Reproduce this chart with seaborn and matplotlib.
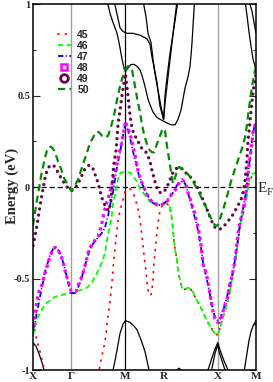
import matplotlib
matplotlib.use("Agg")
import matplotlib.pyplot as plt
from matplotlib.lines import Line2D
import seaborn as sns

# high-symmetry points along the k-path
sym_labels = ["X", "Γ", "M", "R", "X", "M"]
sym_pos = [0.0, 0.5, 1.207, 1.707, 2.414, 2.914]

# bands 45-50, (k, E) pairs
band45 = [(0, -0.74), (0.026, -0.79), (0.052, -0.84), (0.078, -0.88), (0.105, -0.92), (0.131, -0.97),
          (0.157, -1.01), (0.196, -1.10), (0.836, -1.10), (0.876, -0.97), (0.902, -0.92), (0.928, -0.87),
          (0.954, -0.81), (0.967, -0.75), (0.980, -0.70), (1.006, -0.63), (1.019, -0.57), (1.032, -0.52),
          (1.045, -0.45), (1.058, -0.39), (1.072, -0.33), (1.085, -0.28), (1.098, -0.23), (1.111, -0.18),
          (1.137, -0.13), (1.163, -0.09), (1.189, -0.05), (1.207, -0.02), (1.241, -0.01), (1.268, -0.01),
          (1.307, -0.03), (1.333, -0.06), (1.359, -0.10), (1.385, -0.14), (1.398, -0.18), (1.411, -0.22),
          (1.424, -0.27), (1.437, -0.32), (1.450, -0.37), (1.464, -0.42), (1.477, -0.46), (1.490, -0.52),
          (1.503, -0.56), (1.516, -0.59), (1.542, -0.59), (1.555, -0.56), (1.568, -0.51), (1.581, -0.41),
          (1.594, -0.36), (1.607, -0.30), (1.620, -0.25), (1.633, -0.20), (1.646, -0.16), (1.660, -0.13),
          (1.686, -0.10), (1.707, -0.10), (1.738, -0.09), (1.777, -0.10), (1.803, -0.14), (1.816, -0.18),
          (1.829, -0.23), (1.842, -0.29), (1.856, -0.34), (1.882, -0.40), (1.895, -0.46), (1.921, -0.51),
          (1.947, -0.55), (1.986, -0.56), (2.025, -0.55), (2.065, -0.56), (2.117, -0.60), (2.182, -0.65),
          (2.248, -0.71), (2.313, -0.76), (2.378, -0.80), (2.414, -0.81), (2.444, -0.77), (2.483, -0.71),
          (2.535, -0.64), (2.574, -0.57), (2.613, -0.47), (2.640, -0.40), (2.666, -0.34), (2.705, -0.22),
          (2.744, -0.14), (2.770, -0.07), (2.796, -0.02), (2.836, 0.04), (2.875, 0.07), (2.914, 0.08)]

band46 = [(0, -0.81), (0.026, -0.76), (0.052, -0.72), (0.091, -0.69), (0.157, -0.64), (0.222, -0.62),
          (0.287, -0.60), (0.379, -0.59), (0.444, -0.58), (0.5, -0.58), (0.575, -0.57), (0.640, -0.56),
          (0.706, -0.55), (0.771, -0.52), (0.836, -0.47), (0.902, -0.41), (0.941, -0.36), (0.967, -0.29),
          (1.006, -0.21), (1.032, -0.15), (1.045, -0.09), (1.072, -0.04), (1.098, 0.02), (1.124, 0.06),
          (1.150, 0.08), (1.207, 0.08), (1.268, 0.08), (1.307, 0.06), (1.359, 0.03), (1.398, -0.01),
          (1.437, -0.03), (1.490, -0.06), (1.529, -0.08), (1.568, -0.09), (1.620, -0.10), (1.673, -0.10),
          (1.725, -0.09), (1.764, -0.09), (1.790, -0.11), (1.803, -0.14), (1.816, -0.18), (1.829, -0.23),
          (1.842, -0.29), (1.856, -0.34), (1.882, -0.40), (1.895, -0.46), (1.921, -0.51), (1.947, -0.55),
          (1.986, -0.56), (2.025, -0.55), (2.078, -0.56), (2.117, -0.60), (2.156, -0.63), (2.208, -0.67),
          (2.248, -0.71), (2.287, -0.74), (2.339, -0.78), (2.378, -0.80), (2.414, -0.81), (2.444, -0.77),
          (2.483, -0.71), (2.535, -0.64), (2.574, -0.57), (2.613, -0.47), (2.640, -0.40), (2.666, -0.34),
          (2.705, -0.21), (2.744, -0.15), (2.770, -0.10), (2.796, -0.05), (2.809, 0.0), (2.836, 0.05),
          (2.862, 0.07), (2.914, 0.08)]

band47 = [(0, -0.78), (0.026, -0.74), (0.052, -0.68), (0.078, -0.63), (0.105, -0.57), (0.131, -0.52),
          (0.157, -0.46), (0.196, -0.41), (0.222, -0.37), (0.261, -0.34), (0.301, -0.33), (0.340, -0.35),
          (0.379, -0.39), (0.418, -0.45), (0.457, -0.52), (0.483, -0.56), (0.5, -0.58), (0.549, -0.58),
          (0.588, -0.55), (0.627, -0.51), (0.666, -0.45), (0.706, -0.39), (0.745, -0.34), (0.784, -0.31),
          (0.823, -0.29), (0.862, -0.27), (0.902, -0.25), (0.941, -0.22), (0.980, -0.16), (1.006, -0.10),
          (1.045, -0.03), (1.072, 0.04), (1.098, 0.11), (1.137, 0.19), (1.163, 0.25), (1.189, 0.31),
          (1.207, 0.35), (1.241, 0.31), (1.268, 0.27), (1.294, 0.22), (1.320, 0.17), (1.346, 0.13),
          (1.372, 0.08), (1.398, 0.05), (1.424, 0.02), (1.464, -0.02), (1.503, -0.05), (1.542, -0.08),
          (1.581, -0.09), (1.620, -0.09), (1.660, -0.10), (1.707, -0.09), (1.738, -0.08), (1.777, -0.06),
          (1.816, -0.04), (1.856, -0.01), (1.895, 0.02), (1.934, 0.03), (1.960, 0.03), (1.986, 0.02),
          (2.012, -0.01), (2.038, -0.05), (2.065, -0.09), (2.091, -0.13), (2.117, -0.17), (2.143, -0.21),
          (2.169, -0.27), (2.195, -0.33), (2.221, -0.41), (2.248, -0.46), (2.274, -0.51), (2.300, -0.56),
          (2.326, -0.62), (2.352, -0.67), (2.378, -0.71), (2.414, -0.73), (2.444, -0.72), (2.470, -0.69),
          (2.509, -0.64), (2.535, -0.60), (2.561, -0.55), (2.600, -0.49), (2.626, -0.43), (2.653, -0.36),
          (2.679, -0.28), (2.705, -0.20), (2.731, -0.15), (2.757, -0.09), (2.783, -0.03), (2.809, 0.07),
          (2.836, 0.16), (2.862, 0.26), (2.888, 0.32), (2.914, 0.36)]

band48 = [(0, -0.76), (0.026, -0.69), (0.052, -0.62), (0.078, -0.57), (0.105, -0.55), (0.131, -0.51),
          (0.157, -0.47), (0.196, -0.42), (0.222, -0.38), (0.248, -0.35), (0.287, -0.33), (0.327, -0.34),
          (0.353, -0.37), (0.379, -0.39), (0.405, -0.43), (0.431, -0.48), (0.457, -0.51), (0.483, -0.55),
          (0.5, -0.57), (0.536, -0.57), (0.562, -0.57), (0.588, -0.54), (0.614, -0.51), (0.640, -0.49),
          (0.666, -0.45), (0.693, -0.41), (0.719, -0.36), (0.745, -0.33), (0.784, -0.31), (0.823, -0.28),
          (0.849, -0.27), (0.889, -0.22), (0.928, -0.14), (0.967, -0.08), (1.006, -0.03), (1.045, 0.04),
          (1.085, 0.11), (1.124, 0.18), (1.163, 0.25), (1.189, 0.31), (1.207, 0.36), (1.241, 0.32),
          (1.268, 0.29), (1.294, 0.25), (1.320, 0.20), (1.346, 0.15), (1.372, 0.09), (1.398, 0.05),
          (1.437, 0.01), (1.477, -0.03), (1.516, -0.06), (1.555, -0.08), (1.594, -0.09), (1.633, -0.10),
          (1.673, -0.10), (1.712, -0.09), (1.751, -0.08), (1.790, -0.05), (1.829, -0.03), (1.869, -0.01),
          (1.908, 0.02), (1.947, 0.04), (1.973, 0.03), (1.999, 0.01), (2.025, -0.03), (2.052, -0.06),
          (2.078, -0.10), (2.104, -0.13), (2.130, -0.17), (2.156, -0.22), (2.182, -0.27), (2.208, -0.36),
          (2.221, -0.42), (2.248, -0.45), (2.274, -0.49), (2.300, -0.55), (2.326, -0.62), (2.352, -0.68),
          (2.378, -0.72), (2.414, -0.74), (2.431, -0.74), (2.457, -0.72), (2.483, -0.68), (2.509, -0.64),
          (2.535, -0.62), (2.561, -0.55), (2.587, -0.51), (2.613, -0.46), (2.640, -0.40), (2.666, -0.30),
          (2.692, -0.22), (2.718, -0.17), (2.744, -0.13), (2.770, -0.07), (2.796, 0.02), (2.822, 0.12),
          (2.849, 0.20), (2.875, 0.30), (2.914, 0.36)]

band49 = [(0, -0.32), (0.026, -0.27), (0.052, -0.21), (0.078, -0.14), (0.105, -0.07), (0.131, -0.01),
          (0.157, 0.05), (0.183, 0.09), (0.209, 0.11), (0.235, 0.12), (0.261, 0.12), (0.287, 0.11),
          (0.314, 0.09), (0.340, 0.07), (0.366, 0.05), (0.392, 0.03), (0.418, 0.02), (0.444, 0.00),
          (0.470, -0.01), (0.5, -0.02), (0.549, -0.01), (0.575, 0.01), (0.601, 0.03), (0.627, 0.05),
          (0.653, 0.08), (0.680, 0.10), (0.706, 0.11), (0.732, 0.12), (0.758, 0.11), (0.784, 0.10),
          (0.810, 0.07), (0.836, 0.04), (0.862, 0.00), (0.889, -0.04), (0.915, -0.08), (0.941, -0.10),
          (0.967, -0.12), (0.993, -0.13), (1.019, -0.07), (1.032, -0.01), (1.045, 0.07), (1.058, 0.13),
          (1.085, 0.20), (1.111, 0.34), (1.137, 0.42), (1.163, 0.50), (1.189, 0.57), (1.207, 0.62),
          (1.241, 0.50), (1.268, 0.39), (1.294, 0.32), (1.320, 0.29), (1.346, 0.27), (1.372, 0.25),
          (1.398, 0.23), (1.424, 0.21), (1.450, 0.20), (1.477, 0.19), (1.503, 0.17), (1.529, 0.14),
          (1.555, 0.09), (1.581, 0.05), (1.607, 0.01), (1.633, -0.02), (1.660, -0.03), (1.707, -0.03),
          (1.751, 0.00), (1.790, 0.04), (1.829, 0.08), (1.869, 0.10), (1.908, 0.11), (1.947, 0.10),
          (1.986, 0.08), (2.025, 0.07), (2.065, 0.05), (2.104, 0.03), (2.143, 0.00), (2.182, -0.03),
          (2.221, -0.07), (2.261, -0.11), (2.300, -0.15), (2.339, -0.19), (2.378, -0.22), (2.414, -0.23),
          (2.444, -0.23), (2.483, -0.22), (2.522, -0.20), (2.561, -0.18), (2.600, -0.16), (2.640, -0.13),
          (2.679, -0.10), (2.718, -0.07), (2.744, -0.03), (2.770, 0.03), (2.796, 0.15), (2.809, 0.25),
          (2.836, 0.36), (2.862, 0.47), (2.888, 0.56), (2.914, 0.62)]

band50 = [(0, -0.21), (0.026, -0.14), (0.052, -0.07), (0.078, -0.01), (0.105, 0.06), (0.131, 0.11),
          (0.157, 0.16), (0.183, 0.20), (0.209, 0.22), (0.235, 0.22), (0.261, 0.21), (0.287, 0.19),
          (0.327, 0.14), (0.366, 0.10), (0.405, 0.05), (0.444, 0.02), (0.483, -0.01), (0.5, -0.02),
          (0.549, 0.01), (0.588, 0.04), (0.627, 0.09), (0.666, 0.14), (0.706, 0.19), (0.745, 0.24),
          (0.784, 0.27), (0.823, 0.30), (0.862, 0.30), (0.902, 0.28), (0.941, 0.27), (0.980, 0.28),
          (1.006, 0.31), (1.032, 0.35), (1.058, 0.39), (1.085, 0.45), (1.111, 0.50), (1.137, 0.55),
          (1.163, 0.59), (1.189, 0.62), (1.207, 0.64), (1.241, 0.66), (1.268, 0.66), (1.294, 0.64),
          (1.320, 0.58), (1.346, 0.52), (1.372, 0.46), (1.398, 0.41), (1.424, 0.34), (1.450, 0.29),
          (1.477, 0.25), (1.503, 0.22), (1.529, 0.20), (1.555, 0.19), (1.581, 0.19), (1.607, 0.22),
          (1.633, 0.25), (1.660, 0.28), (1.686, 0.31), (1.707, 0.32), (1.725, 0.31), (1.738, 0.26),
          (1.764, 0.19), (1.790, 0.12), (1.816, 0.05), (1.829, 0.02), (1.856, 0.05), (1.882, 0.09),
          (1.908, 0.11), (1.947, 0.10), (1.986, 0.08), (2.025, 0.07), (2.065, 0.05), (2.104, 0.02),
          (2.143, -0.01), (2.182, -0.04), (2.221, -0.08), (2.261, -0.11), (2.300, -0.15), (2.339, -0.18),
          (2.378, -0.21), (2.414, -0.21), (2.431, -0.19), (2.470, -0.14), (2.509, -0.09), (2.548, -0.03),
          (2.587, 0.03), (2.626, 0.08), (2.666, 0.13), (2.705, 0.18), (2.731, 0.21), (2.770, 0.27),
          (2.796, 0.34), (2.822, 0.43), (2.849, 0.51), (2.875, 0.58), (2.901, 0.64), (2.914, 0.65)]

# remaining (unlabelled) bands, drawn in black
black_bands = [
    [(0.967, 1.02), (1.006, 0.95), (1.045, 0.90), (1.072, 0.87), (1.098, 0.84), (1.124, 0.79), (1.137, 0.76),
     (1.163, 0.70), (1.189, 0.65), (1.207, 0.63), (1.241, 0.65), (1.281, 0.67), (1.320, 0.67), (1.359, 0.66),
     (1.398, 0.64), (1.424, 0.61), (1.464, 0.55), (1.503, 0.48), (1.529, 0.45), (1.568, 0.41), (1.620, 0.38),
     (1.660, 0.37), (1.707, 0.36), (1.751, 0.35), (1.803, 0.34), (1.856, 0.34), (1.895, 0.37), (1.934, 0.42),
     (1.960, 0.48), (1.986, 0.54), (2.025, 0.60), (2.052, 0.66), (2.065, 0.72), (2.078, 0.79), (2.091, 0.88),
     (2.104, 0.97), (2.117, 1.03)],
    [(1.058, 1.02), (1.085, 0.97), (1.111, 0.92), (1.137, 0.87), (1.176, 0.85), (1.228, 0.84), (1.307, 0.84),
     (1.398, 0.83), (1.490, 0.81), (1.529, 0.78), (1.555, 0.71), (1.594, 0.63), (1.620, 0.57), (1.660, 0.44),
     (1.707, 0.37), (1.725, 0.50), (1.751, 0.60), (1.790, 0.73), (1.816, 0.80), (1.856, 0.91), (1.895, 1.02)],
    [(1.437, 1.02), (1.477, 0.93), (1.503, 0.84), (1.542, 0.79), (1.568, 0.70), (1.594, 0.62), (1.633, 0.53),
     (1.673, 0.44), (1.707, 0.37), (1.725, 0.46), (1.764, 0.60), (1.803, 0.74), (1.842, 0.88), (1.882, 1.02)],
    [(2.770, 1.02), (2.796, 0.94), (2.822, 0.85), (2.849, 0.77), (2.875, 0.70), (2.901, 0.66), (2.914, 0.64)],
    [(2.822, 1.02), (2.862, 0.96), (2.888, 0.90), (2.914, 0.84)],
    [(0, -0.85), (0.039, -0.87), (0.078, -0.91), (0.118, -0.96), (0.144, -1.0), (0.170, -1.06)],
    [(1.019, -1.04), (1.045, -1.0), (1.072, -0.95), (1.098, -0.89), (1.137, -0.80), (1.176, -0.75), (1.207, -0.73),
     (1.268, -0.74), (1.320, -0.76), (1.359, -0.78), (1.398, -0.82), (1.424, -0.85), (1.464, -0.90),
     (1.490, -0.95), (1.516, -1.0), (1.542, -1.06)],
    [(1.856, -1.03), (1.882, -1.0), (1.908, -0.99), (1.934, -1.0), (1.960, -1.03)],
    [(2.261, -1.04), (2.287, -1.0), (2.326, -0.95), (2.365, -0.90), (2.414, -0.85), (2.444, -0.89),
     (2.496, -0.95), (2.548, -1.0), (2.574, -1.04)],
    [(2.313, -1.04), (2.339, -0.99), (2.378, -0.91), (2.414, -0.86), (2.431, -0.90), (2.470, -0.95),
     (2.509, -1.0), (2.535, -1.04)],
    [(2.744, -1.04), (2.770, -0.98), (2.796, -0.91), (2.822, -0.84), (2.849, -0.79), (2.875, -0.76), (2.914, -0.73)],
]

band_names = ["45", "46", "47", "48", "49", "50"]
bands = [band45, band46, band47, band48, band49, band50]
styles = [
    dict(color="#ff0000", lw=1.3, linestyle=(0, (0.5, 3.6)), dash_capstyle="round"),
    dict(color="#00ff00", lw=1.3, linestyle=(0, (3, 1.8))),
    dict(color="#0000ff", lw=1.3, linestyle=(0, (3, 1.3, 0.6, 1.3))),
    dict(color="#ff00ff", lw=2.3, linestyle=(0, (1, 1.1)), dash_capstyle="butt"),
    dict(color="#670748", lw=2.4, linestyle=(0, (0.01, 1.85)), dash_capstyle="round"),
    dict(color="#008b00", lw=1.6, linestyle=(0, (3.2, 2))),
]

sns.set_style("ticks")
serif = "Liberation Serif"
plt.rcParams["font.family"] = ["Liberation Serif", "DejaVu Serif"]

fig = plt.figure(figsize=(2.73, 3.82), dpi=100)
ax = fig.add_axes([0.1209, 0.0314, 0.8168, 0.958])

for b in black_bands:
    sns.lineplot(x=[p[0] for p in b], y=[p[1] for p in b], sort=False, estimator=None,
                 color="black", lw=0.9, ax=ax)

for b, st in zip(bands, styles):
    sns.lineplot(x=[p[0] for p in b], y=[p[1] for p in b], sort=False, estimator=None, ax=ax, **st)

ax.axvline(sym_pos[1], color="#a0a0a0", lw=1.0, zorder=0)
ax.axvline(sym_pos[2], color="black", lw=0.9, zorder=0)
ax.axvline(sym_pos[4], color="#a0a0a0", lw=1.0, zorder=0)
ax.axhline(0, color="black", lw=0.9, ls=(0, (4, 2.5)), zorder=1)

ax.set_xlim(sym_pos[0], sym_pos[-1])
ax.set_ylim(-1, 1)
ax.set_xticks(sym_pos)
ax.set_xticklabels(sym_labels, fontfamily=serif, fontweight="bold", fontsize=8)
ax.tick_params(axis="x", length=0, pad=1.5)
ax.set_yticks([-1, -0.5, 0, 0.5, 1])
ax.set_yticklabels(["-1", "-0.5", "0", "0.5", "1"], fontfamily=serif, fontweight="bold", fontsize=7.5)
ax.set_yticks([-0.75, -0.25, 0.25, 0.75], minor=True)
ax.tick_params(axis="y", which="both", direction="in", left=True, right=True, width=0.8, pad=2)
ax.tick_params(axis="y", which="major", length=5)
ax.tick_params(axis="y", which="minor", length=2.5)
ax.set_xlabel("")
ax.set_ylabel("")
for s in ax.spines.values():
    s.set_linewidth(1.1)
    s.set_color("black")

handles = [
    Line2D([], [], **styles[0]),
    Line2D([], [], **styles[1]),
    Line2D([], [], **styles[2]),
    Line2D([], [], ls="none", marker="s", ms=5, mfc="white", mec="#ff00ff", mew=1.8),
    Line2D([], [], ls="none", marker="o", ms=5.5, mfc="white", mec="#670748", mew=2),
    Line2D([], [], **styles[5]),
]
ax.legend(handles, band_names, loc="upper left", bbox_to_anchor=(0.11, 0.93), frameon=False,
          handlelength=1.3, handletextpad=0.6, labelspacing=0.1, borderpad=0, borderaxespad=0,
          prop=dict(family="Liberation Sans", weight="bold", size=7.5))

fig.text(12 / 273, 0.513, "Energy (eV)", rotation=90, ha="center", va="center",
         fontfamily=serif, fontweight="bold", fontsize=10.5)
fig.text(258 / 273, 1 - 188 / 382, "E", ha="left", va="center", fontfamily=serif, fontsize=11)
fig.text(267 / 273, 1 - 193 / 382, "F", ha="left", va="center", fontfamily=serif, fontsize=8)

fig.savefig("out.png", dpi=100)
